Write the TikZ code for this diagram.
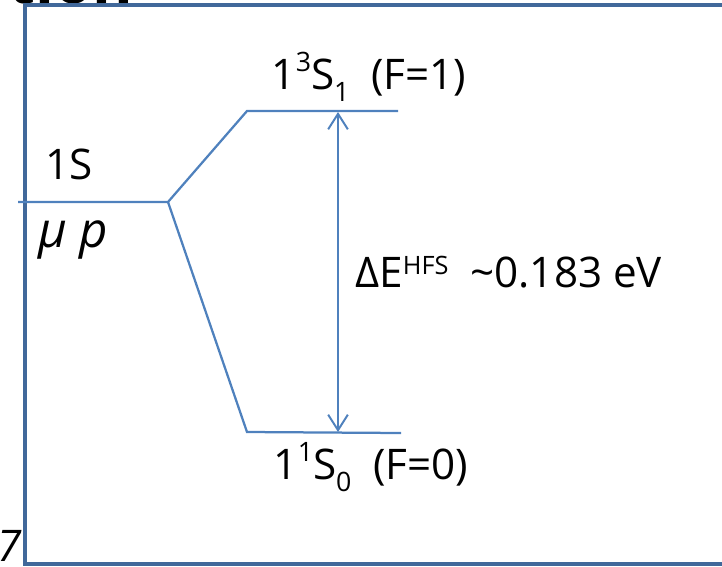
\documentclass[tikz,border=0pt]{standalone}
\usepackage{fontspec}
\setmainfont{Open Sans}
\usetikzlibrary{arrows.meta}
\definecolor{lvlblue}{HTML}{4F81BD}
\definecolor{framecol}{HTML}{41689A}
\newcommand{\hiscr}[1]{\raisebox{0.42em}{\fontsize{19}{19}\selectfont #1}}
\newcommand{\capscr}[1]{\raisebox{0.3em}{\fontsize{18}{18}\selectfont #1}}
\newcommand{\loscr}[1]{\raisebox{-0.28em}{\fontsize{19}{19}\selectfont #1}}

\begin{document}
\begin{tikzpicture}[
    x=0.025cm, y=-0.025cm,
    lvl/.style={lvlblue, line width=1.6pt},
    gap/.style={{Straight Barb[length=11pt, width=14pt]}-{Straight Barb[length=11pt, width=14pt]},
                lvlblue, line width=1.4pt},
    lbl/.style={font=\fontsize{30}{36}\selectfont, inner sep=0pt},
  ]
  \useasboundingbox (0,0) rectangle (722,566);
  \clip (0,0) rectangle (722,566);
  % --- frame and cut-off slide text ---
  \node[font=\fontsize{44}{50}\selectfont\bfseries, anchor=base west, inner sep=0pt] (ttl) at (8,3) {tion};
  \node[lbl, font=\fontsize{31}{36}\selectfont\itshape, anchor=south east] (pg) at (22,562) {7};
  \draw[framecol, line width=2.2pt] (760,5) -- (25,5) -- (25,564) -- (760,564);

  % --- levels ---
  \coordinate (g1) at (18,202);
  \coordinate (g2) at (168,202);
  \coordinate (u1) at (247,111);
  \coordinate (u2) at (398,111);
  \coordinate (d1) at (247,432);
  \coordinate (d2) at (401,433);
  \draw[lvl] (g1) -- (g2) -- (u1) -- (u2);
  \draw[lvl] (g2) -- (d1) -- (d2);
  % splitting arrow
  \coordinate (au) at (338,112);
  \coordinate (ad) at (338,432);
  \draw[gap] (au) -- (ad);

  % --- labels ---
  \node[lbl] (ground) at (69,164) {1S};
  \node[lbl, font=\fontsize{35}{40}\selectfont\itshape] (atom) at (73,240) {μ p};
  \node[lbl] (trip) at (369,77) {1\hiscr{3}S\loscr{1}\ \ (F=1)};
  \node[lbl] (sing) at (371,467) {1\hiscr{1}S\loscr{0}\ \ (F=0)};
  \node[lbl, anchor=west] (hfs) at (355,272) {ΔE\capscr{HFS}\ \ \textasciitilde 0.183 eV};
\end{tikzpicture}
\end{document}
